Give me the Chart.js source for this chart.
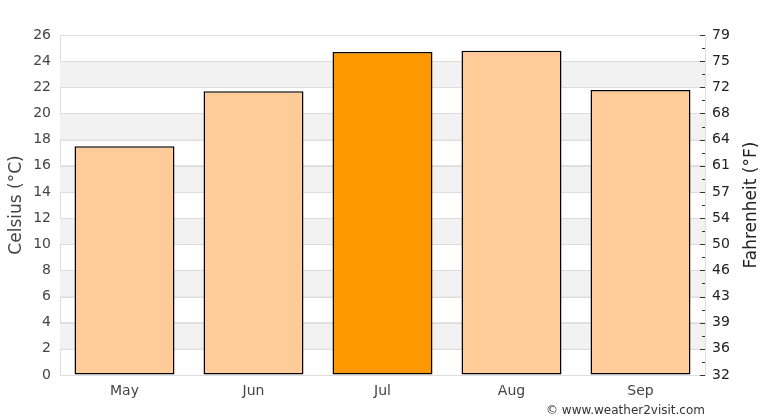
<!DOCTYPE html>
<html>
<head>
<meta charset="utf-8">
<script src="https://cdn.jsdelivr.net/npm/chart.js@4/dist/chart.umd.min.js"></script>
<style>
  html, body { margin: 0; padding: 0; background: #fff; }
  #wrap { position: relative; width: 770px; height: 420px; }
  #credit { position: absolute; right: 65px; top: 403px; font: 12px "DejaVu Sans", sans-serif; color: #333; white-space: nowrap; }
</style>
</head>
<body>
<div id="wrap">
  <canvas id="c" width="770" height="420"></canvas>
  <div id="credit">© www.weather2visit.com</div>
</div>
<script>
const months = ['May', 'Jun', 'Jul', 'Aug', 'Sep'];
const tempC = [17.5, 21.7, 24.7, 24.8, 21.8];
const highlightMonth = 'Jul';
const yMin = 0, yMax = 26, yStep = 2;
const leftTitle = 'Celsius (°C)';
const rightTitle = 'Fahrenheit (°F)';

const FONT = '"DejaVu Sans", sans-serif';

const bandsPlugin = {
  id: 'bands',
  beforeDatasetsDraw(chart) {
    const { ctx, chartArea } = chart;
    const y = chart.scales.y;
    ctx.save();
    ctx.fillStyle = '#f2f2f2';
    for (let v = yMin + yStep; v < yMax; v += 2 * yStep) {
      const top = y.getPixelForValue(v + yStep);
      const bot = y.getPixelForValue(v);
      ctx.fillRect(chartArea.left, top, chartArea.right - chartArea.left, bot - top);
    }
    ctx.strokeStyle = '#dddddd';
    ctx.lineWidth = 1;
    for (let v = yMin; v <= yMax; v += yStep) {
      const p = Math.round(y.getPixelForValue(v)) + 0.5;
      ctx.beginPath();
      ctx.moveTo(chartArea.left, p);
      ctx.lineTo(chartArea.right, p);
      ctx.stroke();
    }
    ctx.restore();
  }
};

const rightTicksPlugin = {
  id: 'rightTicks',
  afterDatasetsDraw(chart) {
    const { ctx, chartArea } = chart;
    const y2 = chart.scales.y2;
    ctx.save();
    ctx.strokeStyle = '#333';
    ctx.lineWidth = 1;
    y2.ticks.forEach(t => {
      const p = Math.round(y2.getPixelForValue(t.value)) + 0.5;
      const len = (t.value % 2 === 0) ? 5 : 3;
      ctx.beginPath();
      ctx.moveTo(chartArea.right - len, p);
      ctx.lineTo(chartArea.right, p);
      ctx.stroke();
    });
    ctx.restore();
  }
};

const titlesPlugin = {
  id: 'axisTitles',
  afterDraw(chart) {
    const { ctx, chartArea } = chart;
    const cy = (chartArea.top + chartArea.bottom) / 2;
    ctx.save();
    ctx.font = '17px ' + FONT;
    ctx.textAlign = 'center';
    ctx.textBaseline = 'middle';
    [[17, leftTitle, '#444'], [752, rightTitle, '#222']].forEach(([x, txt, col]) => {
      ctx.save();
      ctx.translate(x, cy);
      ctx.rotate(-Math.PI / 2);
      ctx.fillStyle = col;
      ctx.fillText(txt, 0, 0);
      ctx.restore();
    });
    ctx.restore();
  }
};

new Chart(document.getElementById('c'), {
  type: 'bar',
  data: {
    labels: months,
    datasets: [{
      data: tempC,
      backgroundColor: months.map(m => m === highlightMonth ? '#ff9900' : '#ffcc99'),
      borderColor: '#000',
      borderWidth: 1.5,
      borderSkipped: false,
      barPercentage: 0.775,
      categoryPercentage: 1.0,
      yAxisID: 'y'
    }]
  },
  options: {
    responsive: false,
    animation: false,
    events: [],
    layout: { padding: { top: 35, bottom: 0, left: 0, right: 0 } },
    plugins: { legend: { display: false }, tooltip: { enabled: false } },
    scales: {
      x: {
        grid: { display: false, drawTicks: false },
        border: { display: false },
        ticks: { font: { family: FONT, size: 14 }, color: '#444', padding: 8 },
        afterFit(s) { s.height = 45; }
      },
      y: {
        position: 'left',
        min: yMin, max: yMax,
        ticks: { stepSize: yStep, font: { family: FONT, size: 14 }, color: '#444', padding: 9 },
        grid: { color: '#dddddd', drawTicks: false },
        border: { display: true, color: '#dddddd' },
        afterFit(s) { s.width = 60; }
      },
      y2: {
        position: 'right',
        min: yMin, max: yMax,
        ticks: {
          stepSize: 1,
          autoSkip: false,
          font: { family: FONT, size: 14 }, color: '#222', padding: 7,
          callback: v => (v % 2 === 0 ? String(Math.round(v * 9 / 5 + 32)) : '')
        },
        grid: { drawOnChartArea: false, drawTicks: false },
        border: { display: true, color: '#dddddd' },
        afterFit(s) { s.width = 65; }
      }
    }
  },
  plugins: [bandsPlugin, rightTicksPlugin, titlesPlugin]
});
</script>
</body>
</html>
